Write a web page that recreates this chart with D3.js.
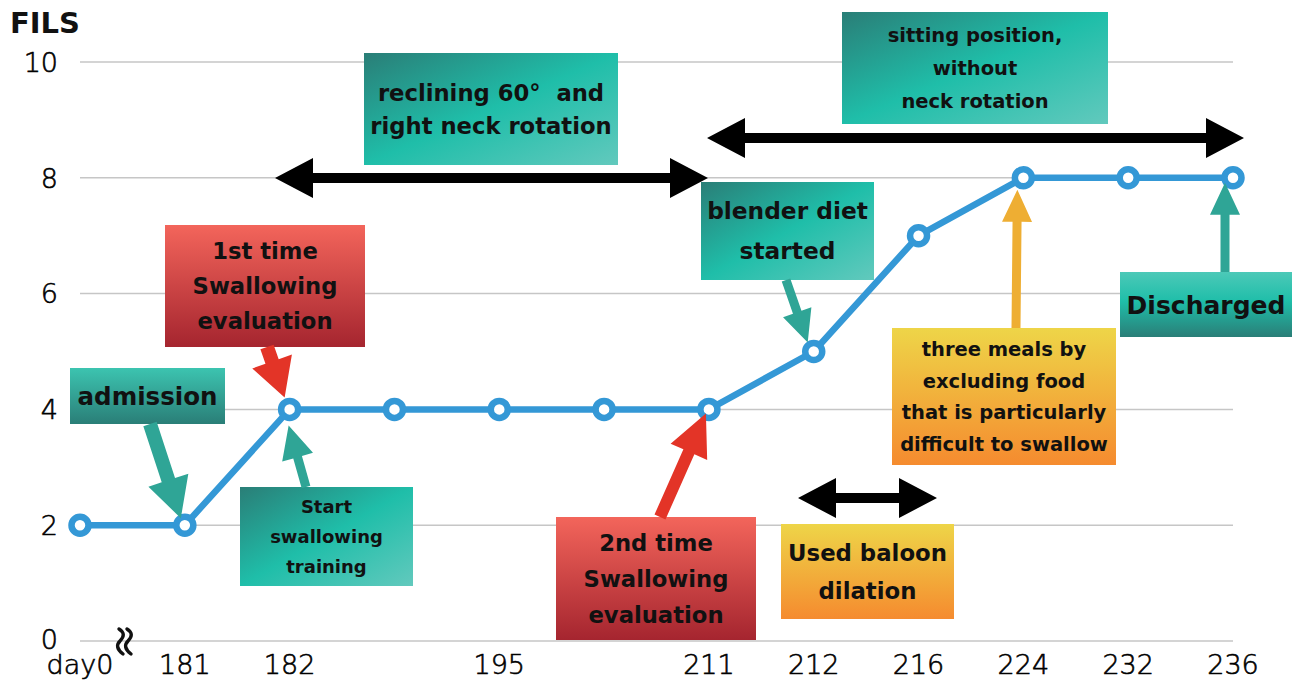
<!DOCTYPE html>
<html><head><meta charset="utf-8">
<script src="https://cdn.jsdelivr.net/npm/d3@7"></script>
<style>
html,body{margin:0;padding:0;background:#fff;}
svg{display:block;}
</style></head>
<body>
<svg id="chart" width="1297" height="681"></svg>
<script>
// ---- data ----
const categories = ["day0","181","182","","195","","211","212","216","224","232","236"];
const fils = [2,2,4,4,4,4,4,5,7,8,8,8];
const yTicks = [0,2,4,6,8,10];
const yTitle = "FILS";

// ---- setup ----
const svg = d3.select("#chart");
const x = d3.scalePoint().domain(d3.range(categories.length)).range([80, 1233]);
const y = d3.scaleLinear().domain([0,10]).range([641, 62]);

const defs = svg.append("defs");
function grad(id, stops, x1,y1,x2,y2){
  const g = defs.append("linearGradient").attr("id",id)
    .attr("x1",x1).attr("y1",y1).attr("x2",x2).attr("y2",y2);
  stops.forEach(s=>g.append("stop").attr("offset",s[0]).attr("stop-color",s[1]));
}
grad("tealD", [["0%","#2a7e77"],["50%","#1fbea9"],["100%","#62c9bd"]], "0","0","1","1");
grad("tealV", [["0%","#3cc4b0"],["100%","#2a7e77"]], "0","0","0","1");
grad("tealV2", [["0%","#4cc9b8"],["45%","#1fbea9"],["100%","#2a7e77"]], "0","0","0","1");
grad("redV", [["0%","#f3655b"],["100%","#a5252f"]], "0","0","0","1");
grad("orV", [["0%","#eed548"],["100%","#f58b2f"]], "0","0","0","1");

const TICKFONT = "'DejaVu Sans', sans-serif";

// gridlines
svg.append("g").selectAll("line").data(yTicks).join("line")
  .attr("x1", x(0)).attr("x2", x(categories.length-1))
  .attr("y1", d=>y(d)).attr("y2", d=>y(d))
  .attr("stroke","#c6c6c6").attr("stroke-width",1.5);

// y tick labels
svg.append("g").selectAll("text").data(yTicks).join("text")
  .attr("x", 58).attr("y", d=>y(d)).attr("dy", d=> d===0 ? "0.3em" : "0.36em")
  .attr("text-anchor","end")
  .style("font-family",TICKFONT)
  .style("font-weight","200").style("font-size","27px")
  .attr("fill","#000").attr("stroke","#000").attr("stroke-width",0.6)
  .text(d=>d);

// x tick labels
svg.append("g").selectAll("text").data(categories).join("text")
  .attr("x", (d,i)=>x(i)).attr("y", 674)
  .attr("text-anchor","middle")
  .style("font-family",TICKFONT)
  .style("font-weight","200").style("font-size","27px")
  .attr("fill","#000").attr("stroke","#000").attr("stroke-width",0.6)
  .text(d=>d);

// axis break symbol
const brk = svg.append("g").attr("fill","none").attr("stroke","#111").attr("stroke-width",3.4).attr("stroke-linecap","round");
[122,130].forEach(bx=>{
  brk.append("path").attr("d", `M${bx-3},629 q8,5 1,12 q-6,6 3,13`);
});

// y title
svg.append("text").attr("x",10).attr("y",33)
  .style("font-family","'DejaVu Sans', sans-serif").style("font-weight","bold")
  .style("font-size","29px").attr("fill","#111").text(yTitle);

// line + points
const line = d3.line().x((d,i)=>x(i)).y(d=>y(d));
svg.append("path").datum(fils).attr("d", line)
  .attr("fill","none").attr("stroke","#3498d6").attr("stroke-width",6.5)
  .attr("stroke-linejoin","round");
svg.append("g").selectAll("circle").data(fils).join("circle")
  .attr("cx",(d,i)=>x(i)).attr("cy",d=>y(d)).attr("r",8.5)
  .attr("fill","#fff").attr("stroke","#3498d6").attr("stroke-width",6.5);

// ---- annotations (layout) ----
const FONT = "'DejaVu Sans', Verdana, sans-serif";
const boxes = [
  {lines:["admission"], x:70,y:368,w:155,h:56, fill:"tealV", fs:24.5, lh:0},
  {lines:["1st time","Swallowing","evaluation"], x:165,y:225,w:200,h:122, fill:"redV", fs:22.7, lh:35},
  {lines:["Start","swallowing","training"], x:240,y:487,w:173,h:99, fill:"tealD", fs:18, lh:30},
  {lines:["reclining 60°  and","right neck rotation"], x:364,y:53,w:254,h:112, fill:"tealD", fs:22.7, lh:33},
  {lines:["2nd time","Swallowing","evaluation"], x:556,y:517,w:200,h:123, fill:"redV", fs:22.7, lh:36},
  {lines:["blender diet","started"], x:701,y:182,w:173,h:98, fill:"tealD", fs:23.3, lh:40},
  {lines:["sitting position,","without","neck rotation"], x:842,y:12,w:266,h:112, fill:"tealD", fs:19.5, lh:33},
  {lines:["Used baloon","dilation"], x:781,y:524,w:173,h:95, fill:"orV", fs:22.8, lh:38},
  {lines:["three meals by","excluding food","that is particularly","difficult to swallow"], x:892,y:328,w:224,h:137, fill:"orV", fs:19.5, lh:31.7},
  {lines:["Discharged"], x:1120,y:272,w:172,h:65, fill:"tealV2", fs:25, lh:0}
];

const gb = svg.append("g");
boxes.forEach(b=>{
  gb.append("rect").attr("x",b.x).attr("y",b.y).attr("width",b.w).attr("height",b.h)
    .attr("fill",`url(#${b.fill})`);
  const cy = b.y + b.h/2, n = b.lines.length;
  b.lines.forEach((t,k)=>{
    gb.append("text").attr("x", b.x + b.w/2)
      .attr("y", cy + (k-(n-1)/2)*b.lh + 0.36*b.fs)
      .attr("text-anchor","middle")
      .attr("xml:space","preserve")
      .style("white-space","pre")
      .style("font-family", FONT)
      .style("font-weight", "bold")
      .style("font-size", b.fs+"px").attr("fill","#111").text(t);
  });
});

function arrowPath(x1,y1,x2,y2,sw,hw,hl){
  const dx=x2-x1, dy=y2-y1, L=Math.hypot(dx,dy), ux=dx/L, uy=dy/L, nx=-uy, ny=ux;
  const bx=x2-ux*hl, by=y2-uy*hl;
  const p=[[x1+nx*sw/2,y1+ny*sw/2],[bx+nx*sw/2,by+ny*sw/2],[bx+nx*hw/2,by+ny*hw/2],[x2,y2],
           [bx-nx*hw/2,by-ny*hw/2],[bx-nx*sw/2,by-ny*sw/2],[x1-nx*sw/2,y1-ny*sw/2]];
  return "M"+p.map(q=>q.join(",")).join("L")+"Z";
}
function dblArrowPath(x1,y1,x2,y2,sw,hw,hl){
  const dx=x2-x1, dy=y2-y1, L=Math.hypot(dx,dy), ux=dx/L, uy=dy/L, nx=-uy, ny=ux;
  const ax=x1+ux*hl, ay=y1+uy*hl, bx=x2-ux*hl, by=y2-uy*hl;
  const p=[[x1,y1],[ax+nx*hw/2,ay+ny*hw/2],[ax+nx*sw/2,ay+ny*sw/2],[bx+nx*sw/2,by+ny*sw/2],
           [bx+nx*hw/2,by+ny*hw/2],[x2,y2],[bx-nx*hw/2,by-ny*hw/2],[bx-nx*sw/2,by-ny*sw/2],
           [ax-nx*sw/2,ay-ny*sw/2],[ax-nx*hw/2,ay-ny*hw/2]];
  return "M"+p.map(q=>q.join(",")).join("L")+"Z";
}

// pointer arrows: start in pixels at box edge, tip relative to a data point
const pointers = [
  {sx:150, sy:424, i:1, dx:-4, dy:-7, sw:14, hw:42, hl:40, c:"#2fa596"},
  {sx:267, sy:347, i:2, dx:-5, dy:-12, sw:14, hw:42, hl:38, c:"#e33427"},
  {sx:306, sy:487, i:2, dx:-1, dy:16, sw:9, hw:32, hl:33, c:"#2fa596"},
  {sx:660, sy:517, i:6, dx:-3, dy:4, sw:12, hw:40, hl:42, c:"#e33427"},
  {sx:786, sy:280, i:7, dx:-6, dy:-9, sw:9, hw:30, hl:32, c:"#2fa596"},
  {sx:1016, sy:328, i:9, dx:-6, dy:12, sw:9, hw:30, hl:32, c:"#eeae33"},
  {sx:1225, sy:272, i:11, dx:-8, dy:5, sw:9, hw:30, hl:32, c:"#2fa596"}
];
const ga = svg.append("g");
pointers.forEach(p=>{
  ga.append("path").attr("d", arrowPath(p.sx,p.sy, x(p.i)+p.dx, y(fils[p.i])+p.dy, p.sw,p.hw,p.hl))
    .attr("fill",p.c);
});
const spans = [
  {x1:275, x2:708, yy:178},
  {x1:707, x2:1244, yy:138},
  {x1:798, x2:937, yy:498}
];
spans.forEach(s=>{
  ga.append("path").attr("d", dblArrowPath(s.x1,s.yy,s.x2,s.yy,10,40,38)).attr("fill","#000");
});
</script>
</body></html>
